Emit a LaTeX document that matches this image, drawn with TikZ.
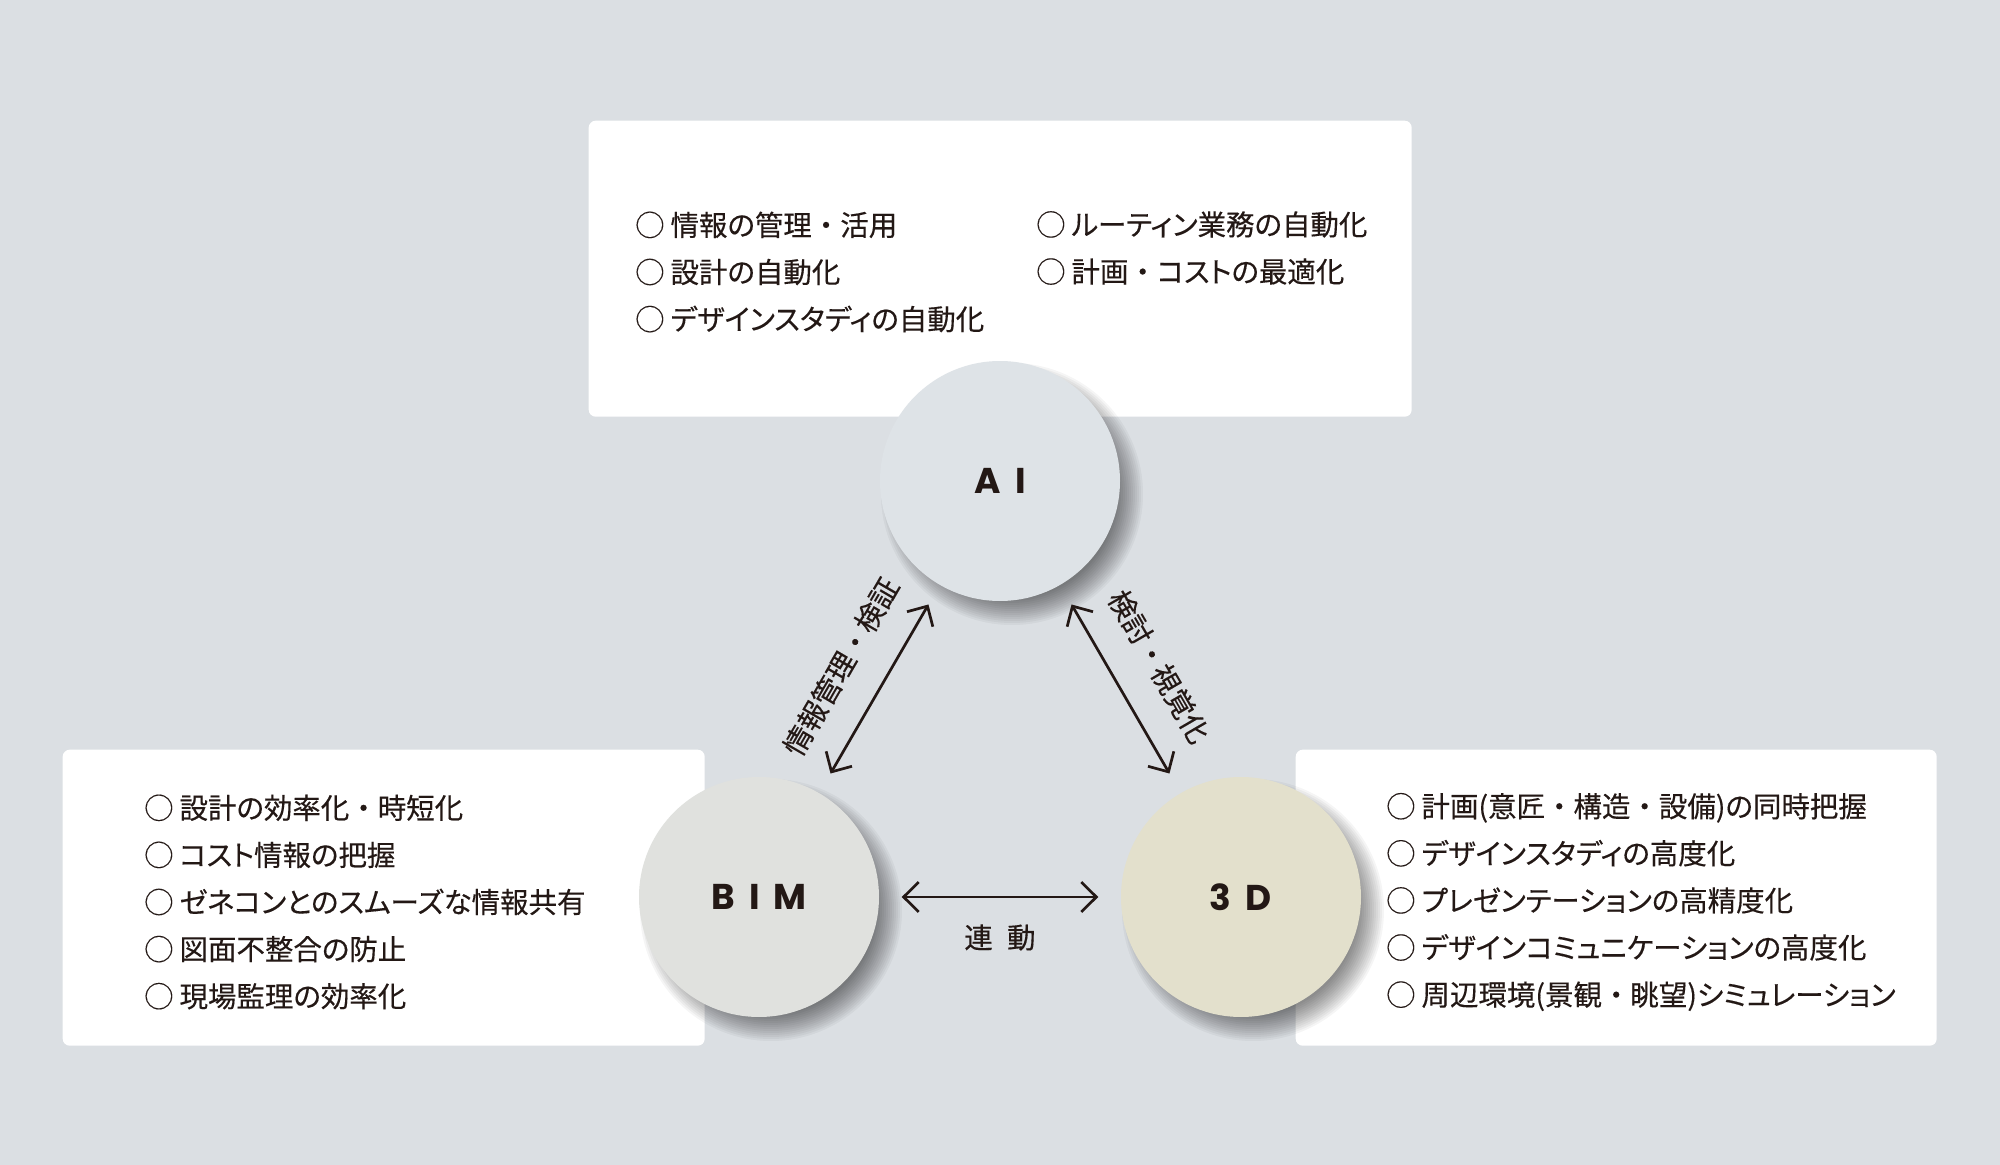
\documentclass[tikz,border=0pt]{standalone}
\usepackage{fontspec}
\newfontfamily\jpfont[RawFeature=+palt, FakeBold=0.3]{Noto Sans CJK JP}
\newfontfamily\jpfixed[FakeBold=0.3]{Noto Sans CJK JP}
\newfontfamily\tagfont[LetterSpace=40]{Poppins}
\newcommand\nakadot{{\jpfixed ・}}
\usetikzlibrary{positioning,calc,arrows.meta}
\definecolor{bgcol}{HTML}{DBDFE3}
\definecolor{aicol}{HTML}{DEE3E7}
\definecolor{bimcol}{HTML}{E0E1DE}
\definecolor{tdcol}{HTML}{E3E0CC}
\definecolor{ink}{HTML}{231815}
\tikzset{
	panel/.style={fill=white, rounded corners=0.7mm, inner sep=0pt, anchor=north west},
	topic/.style={circle, minimum size=2.4cm, inner sep=0pt, text=ink, font=\tagfont\bfseries\fontsize{10.2}{12}\selectfont},
	items/.style={align=left, anchor=west, inner sep=0pt, text=ink, font=\jpfont\fontsize{8.1}{13.4}\selectfont},
	link/.style={{Straight Barb[length=4.3pt,width=8.5pt]}-{Straight Barb[length=4.3pt,width=8.5pt]}, line width=0.77pt, draw=ink, shorten <=2.2mm, shorten >=2.2mm},
	linklabel/.style={inner sep=0pt, text=ink, font=\jpfont\fontsize{8.1}{10}\selectfont}
}
\begin{document}
\begin{tikzpicture}[x=0.1mm, y=-0.1mm]
		\fill[bgcol] (0,0) rectangle (2000,1165);
		\useasboundingbox (0,0) rectangle (2000,1165);
		\node[panel, minimum width=8.23cm, minimum height=2.96cm] (aibox) at (588,120) {};
		\node[panel, minimum width=6.42cm, minimum height=2.96cm] (bimbox) at (62,749) {};
		\node[panel, minimum width=6.41cm, minimum height=2.96cm] (tdbox) at (1295,749) {};
		\coordinate (ai-c) at (1000,481);
		\coordinate (bim-c) at (759,897);
		\coordinate (td-c) at (1241,897);
		\foreach \c in {ai-c, bim-c, td-c}
			\foreach \k in {0,...,13}
				\fill[black, opacity=0.04] ($(\c)+(12,13)$) circle[radius=1.31cm-\k*0.2mm];
		\node[topic, fill=aicol] (ai) at (ai-c) {AI};
		\node[topic, fill=bimcol] (bim) at (bim-c) {BIM};
		\node[topic, fill=tdcol] (threed) at (td-c) {3D};
		\draw[link] (bim) -- (ai) node[midway, sloped, above=3mm, linklabel] (lbl-info) {情報管理\nakadot 検証};
		\draw[link] (ai) -- (threed) node[midway, sloped, above=3mm, linklabel] (lbl-view) {検討\nakadot 視覚化};
		\draw[link] (bim) -- (threed) node[midway, below=2.6mm, linklabel] (lbl-sync) {連\hspace{0.5em}動};
		\node[items] (ai-list-a) at (635,272) {◯ 情報の管理\nakadot 活用\\◯ 設計の自動化\\◯ デザインスタディの自動化};
		\node[items] (ai-list-b) at (1036,248) {◯ ルーティン業務の自動化\\◯ 計画\nakadot コストの最適化};
		\node[items] (bim-list) at (144,902) {◯ 設計の効率化\nakadot 時短化\\◯ コスト情報の把握\\◯ ゼネコンとのスムーズな情報共有\\◯ 図面不整合の防止\\◯ 現場監理の効率化};
		\node[items] (td-list) at (1386,902) {◯ 計画(意匠\nakadot 構造\nakadot 設備)の同時把握\\◯ デザインスタディの高度化\\◯ プレゼンテーションの高精度化\\◯ デザインコミュニケーションの高度化\\◯ 周辺環境(景観\nakadot 眺望)シミュレーション};
	\end{tikzpicture}
\end{document}
